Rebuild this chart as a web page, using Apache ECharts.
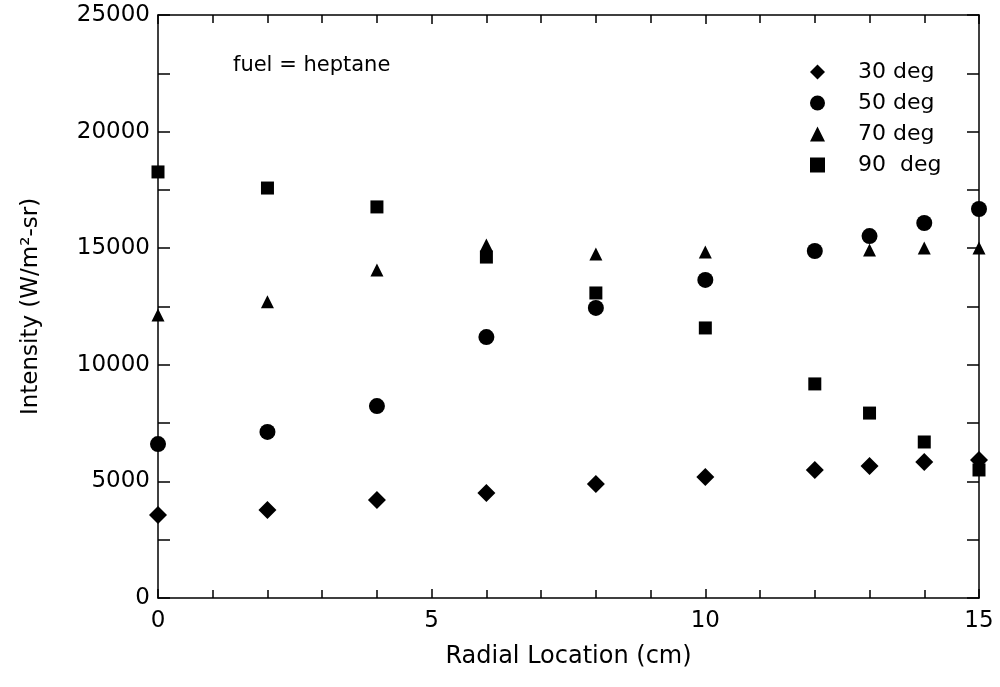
<!DOCTYPE html>
<html>
<head>
<meta charset="utf-8">
<script src="https://cdn.jsdelivr.net/npm/echarts@6/dist/echarts.min.js"></script>
<style>
html,body{margin:0;padding:0;background:#fff;}
#chart{width:1000px;height:687px;}
</style>
</head>
<body>
<div id="chart"></div>
<script>
const radialLocation = [0, 2, 4, 6, 8, 10, 12, 13, 14, 15];
const deg30 = [3560, 3770, 4200, 4500, 4890, 5190, 5490, 5660, 5830, 5920];
const deg50 = [6600, 7120, 8230, 11190, 12440, 13640, 14880, 15520, 16080, 16680];
const deg70 = [12140, 12700, 14070, 15140, 14750, 14840, null, 14920, 15010, 15010];
const deg90 = [18270, 17580, 16770, 14620, 13080, 11580, 9180, 7930, 6690, 5490];
const seriesNames = ['30 deg', '50 deg', '70 deg', '90  deg'];
const xTickLabels = ['0', '5', '10', '15'];
const yTickLabels = ['0', '5000', '10000', '15000', '20000', '25000'];

const FONT = 'DejaVu Sans';
function pairs(ys) {
  return radialLocation.map((x, i) => ys[i] == null ? null : [x, ys[i]]).filter(p => p);
}
const symbols = ['diamond', 'circle', 'triangle', 'rect'];
const sizes = [18, 16, 13, 13];
const allData = [deg30, deg50, deg70, deg90];

const chart = echarts.init(document.getElementById('chart'));
const axisLine = { show: true, onZero: false, lineStyle: { color: '#000', width: 1.5 } };
chart.setOption({
  backgroundColor: '#fff',
  animation: false,
  grid: { left: 158, right: 21, top: 15, bottom: 89 },
  title: {
    text: 'fuel = heptane', left: 228, top: 50,
    textStyle: { fontFamily: FONT, fontSize: 21, fontWeight: 'normal', color: '#000' }
  },
  legend: {
    orient: 'vertical', left: 805, top: 56,
    itemWidth: 15, itemHeight: 15, itemGap: 9,
    data: seriesNames,
    textStyle: { fontFamily: FONT, fontSize: 22, color: '#000', padding: [0, 0, 0, 28] }
  },
  xAxis: [{
    type: 'value', min: 0, max: 15, interval: 5,
    name: 'Radial Location (cm)', nameLocation: 'middle', nameGap: 47,
    nameTextStyle: { fontFamily: FONT, fontSize: 24, color: '#000' },
    axisLine: axisLine,
    axisTick: { show: true, inside: true, length: 9, lineStyle: { color: '#000', width: 1.5 } },
    minorTick: { show: true, splitNumber: 5, length: 8, lineStyle: { color: '#000', width: 1.5 } },
    axisLabel: { fontFamily: FONT, fontSize: 23, color: '#000', margin: 12,
      formatter: v => xTickLabels.includes(String(v)) ? String(v) : '' },
    splitLine: { show: false }
  }, {
    type: 'value', min: 0, max: 15, interval: 5, position: 'top',
    axisLine: axisLine,
    axisTick: { show: true, inside: true, length: 9, lineStyle: { color: '#000', width: 1.5 } },
    minorTick: { show: true, splitNumber: 5, length: 8, lineStyle: { color: '#000', width: 1.5 } },
    axisLabel: { show: false }, splitLine: { show: false }
  }],
  yAxis: [{
    type: 'value', min: 0, max: 25000, interval: 5000,
    name: 'Intensity (W/m²-sr)', nameLocation: 'middle', nameGap: 115, nameRotate: 90,
    nameTextStyle: { fontFamily: FONT, fontSize: 23, color: '#000' },
    axisLine: axisLine,
    axisTick: { show: true, inside: true, length: 12, lineStyle: { color: '#000', width: 1.5 } },
    minorTick: { show: true, splitNumber: 2, length: 12, lineStyle: { color: '#000', width: 1.5 } },
    axisLabel: { fontFamily: FONT, fontSize: 23, color: '#000', margin: 8,
      formatter: v => yTickLabels.includes(String(v)) ? String(v) : '' },
    splitLine: { show: false }
  }, {
    type: 'value', min: 0, max: 25000, interval: 5000, position: 'right',
    axisLine: axisLine,
    axisTick: { show: true, inside: true, length: 12, lineStyle: { color: '#000', width: 1.5 } },
    minorTick: { show: true, splitNumber: 2, length: 12, lineStyle: { color: '#000', width: 1.5 } },
    axisLabel: { show: false }, splitLine: { show: false }
  }],
  series: seriesNames.map((name, i) => ({
    name: name, type: 'scatter', xAxisIndex: 0, yAxisIndex: 0,
    symbol: symbols[i], symbolSize: sizes[i], clip: false,
    itemStyle: { color: '#000', opacity: 1 },
    data: pairs(allData[i])
  }))
});
</script>
</body>
</html>
